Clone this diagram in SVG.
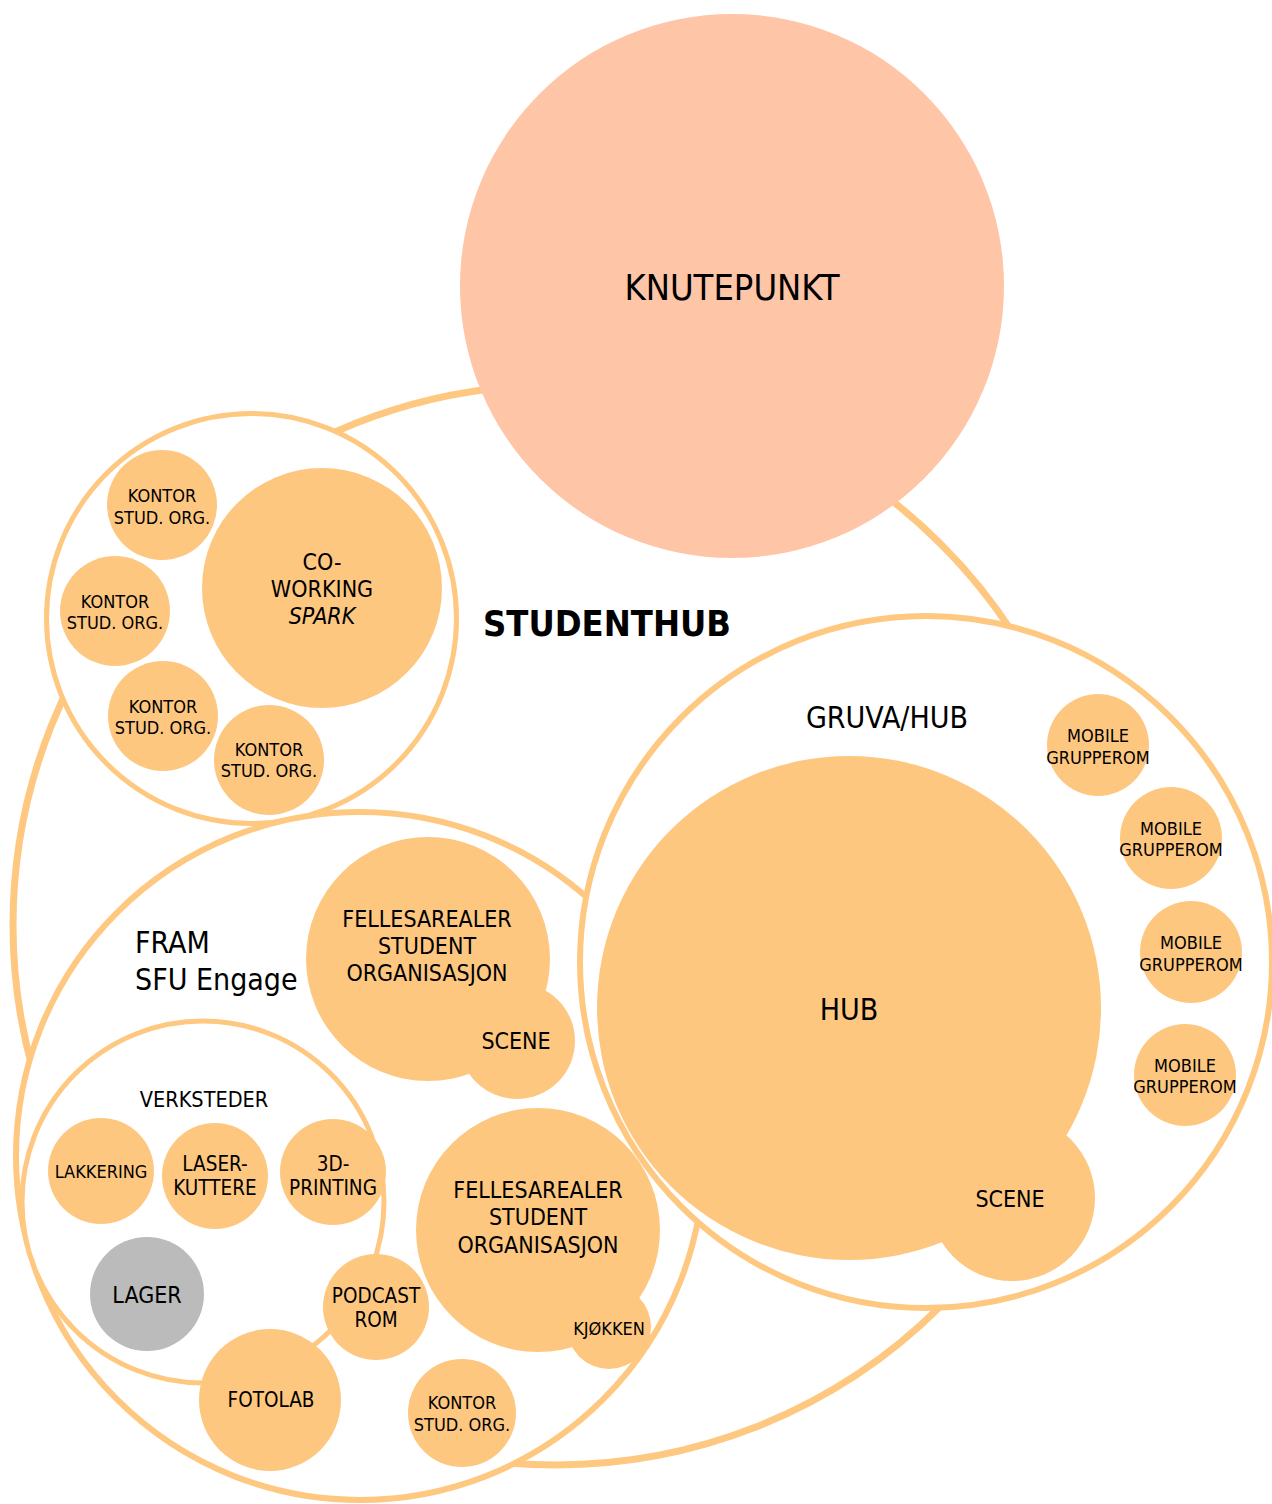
<svg xmlns="http://www.w3.org/2000/svg" width="1272" height="1504" viewBox="0 0 1272 1504">
<style>
.ring{fill:#FFFFFF;stroke:#FEC881;}
.room{fill:#FEC780;}
.kp{fill:#FEC5A7;}
.gray{fill:#BBBBBB;}
text{font-family:"DejaVu Sans Condensed","DejaVu Sans",sans-serif;font-stretch:condensed;fill:#000;text-anchor:middle;}
.s18{font-size:18px;}
.s20{font-size:20.5px;}
.s23{font-size:23px;}
.s30{font-size:30px;}
</style>
<rect width="1272" height="1504" fill="#FFFFFF"/>
<g id="studenthub">
<ellipse class="ring" cx="556" cy="925" rx="543" ry="540" stroke-width="7"/>
<text x="607" y="636" style="font-size:36px;font-weight:bold">STUDENTHUB</text>
</g>
<g id="knutepunkt">
<circle class="kp" cx="732" cy="286" r="272"/>
<text x="732" y="300" style="font-size:36px">KNUTEPUNKT</text>
</g>
<g id="spark-area">
<circle class="ring" cx="251.5" cy="618.5" r="205" stroke-width="5"/>
<g id="kontor1"><circle class="room" cx="162" cy="505" r="55"/><text class="s18" x="162" y="501.5">KONTOR</text><text class="s18" x="162" y="523.5">STUD. ORG.</text></g>
<g id="kontor2"><circle class="room" cx="115" cy="611" r="55"/><text class="s18" x="115" y="607.5">KONTOR</text><text class="s18" x="115" y="628.5">STUD. ORG.</text></g>
<g id="kontor3"><circle class="room" cx="163" cy="716" r="55"/><text class="s18" x="163" y="712.5">KONTOR</text><text class="s18" x="163" y="733.5">STUD. ORG.</text></g>
<g id="kontor4"><circle class="room" cx="269" cy="760" r="55"/><text class="s18" x="269" y="755.5">KONTOR</text><text class="s18" x="269" y="776.5">STUD. ORG.</text></g>
<g id="coworking"><circle class="room" cx="322" cy="588" r="120"/><text class="s23" x="322" y="570">CO-</text><text class="s23" x="322" y="597">WORKING</text><text class="s23" x="322" y="624" font-style="italic">SPARK</text></g>
</g>
<g id="fram">
<circle class="ring" cx="360" cy="1156" r="344" stroke-width="6"/>
<text class="s30" x="135" y="953" style="text-anchor:start">FRAM</text>
<text class="s30" x="135" y="990" style="text-anchor:start">SFU Engage</text>
<g id="verksteder">
<circle class="ring" cx="203" cy="1202" r="181" stroke-width="5"/>
<text x="204" y="1107" style="font-size:21.5px">VERKSTEDER</text>
<g id="lakkering"><circle class="room" cx="101" cy="1171" r="53"/><text class="s18" x="101" y="1177.5">LAKKERING</text></g>
<g id="laserkuttere"><circle class="room" cx="215" cy="1176" r="53"/><text class="s20" x="215" y="1171">LASER-</text><text class="s20" x="215" y="1195">KUTTERE</text></g>
<g id="printing"><circle class="room" cx="333" cy="1172" r="53"/><text class="s20" x="333" y="1170.5">3D-</text><text class="s20" x="333" y="1194.5">PRINTING</text></g>
<g id="lager"><circle class="gray" cx="147" cy="1294" r="57"/><text class="s23" x="147" y="1303">LAGER</text></g>
</g>
<g id="podcast"><circle class="room" cx="376" cy="1307" r="53"/><text class="s20" x="376" y="1303">PODCAST</text><text class="s20" x="376" y="1327">ROM</text></g>
<g id="fotolab"><circle class="room" cx="270" cy="1400" r="71"/><text class="s20" x="271" y="1407">FOTOLAB</text></g>
<g id="felles1"><circle class="room" cx="428" cy="959" r="122"/><circle class="room" cx="517" cy="1041" r="58"/>
<text class="s23" x="427" y="927">FELLESAREALER</text><text class="s23" x="427" y="954">STUDENT</text><text class="s23" x="427" y="981">ORGANISASJON</text><text class="s23" x="516" y="1049">SCENE</text></g>
<g id="felles2"><circle class="room" cx="538" cy="1230" r="122"/><circle class="room" cx="609" cy="1327" r="42"/>
<text class="s23" x="538" y="1198">FELLESAREALER</text><text class="s23" x="538" y="1225">STUDENT</text><text class="s23" x="538" y="1253">ORGANISASJON</text><text class="s18" x="609" y="1334.5">KJØKKEN</text></g>
<g id="kontor5"><circle class="room" cx="462" cy="1413" r="54"/><text class="s18" x="462" y="1408.5">KONTOR</text><text class="s18" x="462" y="1430.5">STUD. ORG.</text></g>
</g>
<g id="gruva">
<circle class="ring" cx="926" cy="962" r="346" stroke-width="6"/>
<text class="s30" x="887" y="728">GRUVA/HUB</text>
<g id="hub"><circle class="room" cx="849" cy="1008" r="252"/><circle class="room" cx="1012" cy="1198" r="83"/>
<text class="s30" x="849" y="1020">HUB</text><text class="s23" x="1010" y="1207">SCENE</text></g>
<g id="mobile1"><circle class="room" cx="1098" cy="745" r="51"/><text class="s18" x="1098" y="741.5">MOBILE</text><text class="s18" x="1098" y="763.5">GRUPPEROM</text></g>
<g id="mobile2"><circle class="room" cx="1171" cy="838" r="51"/><text class="s18" x="1171" y="834.5">MOBILE</text><text class="s18" x="1171" y="855.5">GRUPPEROM</text></g>
<g id="mobile3"><circle class="room" cx="1191" cy="952" r="51"/><text class="s18" x="1191" y="948.5">MOBILE</text><text class="s18" x="1191" y="970.5">GRUPPEROM</text></g>
<g id="mobile4"><circle class="room" cx="1185" cy="1075" r="51"/><text class="s18" x="1185" y="1071.5">MOBILE</text><text class="s18" x="1185" y="1092.5">GRUPPEROM</text></g>
</g>
<g id="connectors"></g>
</svg>
